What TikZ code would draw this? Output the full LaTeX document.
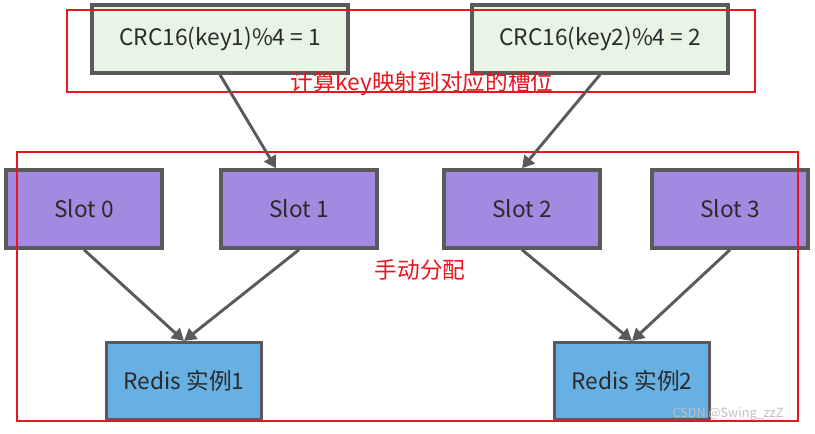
\documentclass[tikz,border=0pt]{standalone}
\usepackage{fontspec}
\setmainfont{Noto Sans CJK SC}
\usetikzlibrary{arrows.meta,positioning,calc}
\definecolor{hashgreen}{HTML}{E8F4E4}
\definecolor{slotpurple}{HTML}{A389E0}
\definecolor{redisblue}{HTML}{67B0E3}
\definecolor{edgegray}{HTML}{5A5A5A}
\definecolor{textdark}{HTML}{2A2A2A}
\definecolor{notered}{HTML}{E8141E}

\begin{document}
\begin{tikzpicture}[x=0.75pt, y=-0.75pt,
  box/.style={draw=edgegray, line width=2.6pt, align=center, text=textdark,
    font=\fontsize{17}{19}\selectfont, inner sep=0pt},
  hashbox/.style={box, fill=hashgreen, minimum width=192pt, minimum height=51pt},
  slotbox/.style={box, fill=slotpurple, minimum width=117pt, minimum height=58.5pt},
  redisbox/.style={box, fill=redisblue, minimum width=116pt, minimum height=57.5pt},
  arr/.style={-{Triangle[length=9pt, width=10pt]}, line width=2.2pt, draw=edgegray},
  group/.style={draw=notered, line width=1.2pt},
  note/.style={text=notered, font=\fontsize{17}{19}\selectfont, inner sep=0pt}]
\useasboundingbox (0,0) rectangle (815,433);
% hash step
\node[hashbox] (crc1) at (220,39) {CRC16(key1)\%4 = 1};
\node[hashbox] (crc2) at (600,39) {CRC16(key2)\%4 = 2};
\draw[group] (67,10) rectangle (755,92);
\node[note] (hashnote) at (422,84) {计算key映射到对应的槽位};
% slots
\node[slotbox] (slot0) at (84,209) {Slot 0};
\node[slotbox] (slot1) at (299,209) {Slot 1};
\node[slotbox] (slot2) at (522,209) {Slot 2};
\node[slotbox] (slot3) at (730,209) {Slot 3};
% instances
\node[redisbox] (redis1) at (184,381) {Redis 实例1};
\node[redisbox] (redis2) at (632,381) {Redis 实例2};
\draw[group] (17,152) rectangle (798,421);
\node[note] (assignnote) at (420,270) {手动分配};
\node[text=black!25, font=\fontsize{9.5}{10}\selectfont, inner sep=0pt]
  (mark) at (728,414) {CSDN @Swing\_zzZ};
\coordinate (in1) at ($(slot1.north)+(-23,0)$);
\draw[arr] (crc1.south) -- (in1);
\draw[arr] (crc2.south) -- (slot2.north);
\foreach \a/\b in {slot0/redis1,slot1/redis1,slot2/redis2,slot3/redis2}
  \draw[arr] (\a.south) -- (\b.north);
\end{tikzpicture}
\end{document}
